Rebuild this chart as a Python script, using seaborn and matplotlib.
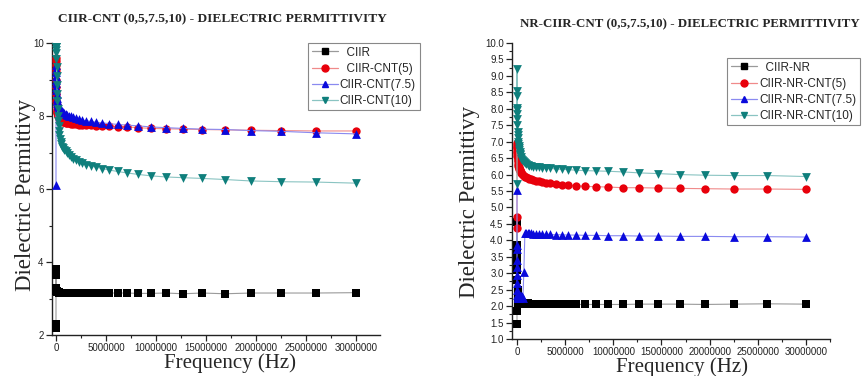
import matplotlib
matplotlib.use("Agg")
import matplotlib.pyplot as plt
import seaborn as sns
import pandas as pd
from matplotlib.lines import Line2D
from matplotlib.ticker import MultipleLocator

# ---------------- data ----------------
freq = [100, 200, 500, 1000, 2000, 5000, 10000, 20000, 40000, 60000, 80000, 100000,
        127000, 146000, 169000, 195000, 225000, 260000, 300000, 346000, 400000, 462000,
        533000, 615000, 710000, 820000, 950000,
        1100000, 1270000, 1460000, 1690000, 1950000, 2250000, 2600000, 3000000, 3460000, 4000000,
        4620000, 5330000, 6150000, 7100000, 8200000, 9500000, 11000000, 12700000, 14600000, 16900000,
        19500000, 22500000, 26000000, 30000000]

# left chart: CIIR-CNT
ciir = [2.2, 2.3, 3.8, 3.65, 3.3, 3.25, 3.22, 3.2, 3.2, 3.2, 3.19, 3.19,
        3.18, 3.18, 3.18, 3.17, 3.17, 3.17, 3.17, 3.16, 3.16, 3.16,
        3.16, 3.16, 3.15, 3.15, 3.15,
        3.15, 3.15, 3.15, 3.14, 3.15, 3.15, 3.14, 3.15, 3.15, 3.15,
        3.15, 3.15, 3.15, 3.15, 3.14, 3.14, 3.15, 3.13, 3.15, 3.13,
        3.15, 3.15, 3.15, 3.16]
ciir_cnt5 = [9.6, 9.5, 9.4, 9.3, 9.2, 9.0, 8.8, 8.6, 8.4, 8.3, 8.2, 8.15,
             8.1, 8.07, 8.04, 8.01, 7.99, 7.97, 7.95, 7.93, 7.91, 7.89,
             7.87, 7.85, 7.84, 7.83, 7.82,
             7.81, 7.8, 7.79, 7.78, 7.77, 7.76, 7.75, 7.74, 7.74, 7.73,
             7.73, 7.72, 7.71, 7.7, 7.68, 7.66, 7.65, 7.64, 7.63, 7.62,
             7.61, 7.6, 7.59, 7.59]
ciir_cnt75 = [6.1, 9.2, 9.4, 9.3, 9.1, 9.0, 8.9, 8.8, 8.7, 8.6, 8.5, 8.45,
              8.4, 8.36, 8.33, 8.3, 8.27, 8.25, 8.23, 8.21, 8.19, 8.17,
              8.15, 8.13, 8.1, 8.08, 8.05,
              8.03, 8.01, 7.99, 7.97, 7.94, 7.91, 7.89, 7.87, 7.85, 7.83,
              7.81, 7.79, 7.77, 7.75, 7.73, 7.7, 7.68, 7.66, 7.64, 7.63,
              7.6, 7.58, 7.54, 7.51]
ciir_cnt10 = [9.95, 9.94, 9.93, 9.92, 9.9, 9.88, 9.82, 9.72, 9.55, 9.35, 9.1, 8.85,
              8.6, 8.4, 8.2, 8.0, 7.85, 7.72, 7.6, 7.48, 7.38, 7.3,
              7.22, 7.16, 7.11, 7.07, 7.03,
              6.98, 6.93, 6.88, 6.83, 6.79, 6.75, 6.71, 6.67, 6.63, 6.6,
              6.56, 6.52, 6.48, 6.44, 6.4, 6.36, 6.33, 6.31, 6.29, 6.26,
              6.22, 6.2, 6.19, 6.16]

# right chart: NR-CIIR-CNT
nr = [1.45, 1.85, 4.55, 3.85, 3.6, 3.45, 3.3, 3.1, 2.8, 2.5, 2.3, 2.15,
      2.1, 2.08, 2.07, 2.07, 2.06, 2.06, 2.06, 2.06, 2.06, 2.06,
      2.06, 2.06, 2.06, 2.07, 2.1,
      2.08, 2.06, 2.05, 2.05, 2.05, 2.05, 2.05, 2.05, 2.05, 2.05,
      2.05, 2.05, 2.05, 2.05, 2.05, 2.05, 2.05, 2.06, 2.06, 2.06,
      2.05, 2.06, 2.07, 2.06]
nr_cnt5 = [4.38, 4.72, 6.95, 6.9, 6.85, 6.8, 6.72, 6.65, 6.57, 6.5, 6.45, 6.4,
           6.32, 6.27, 6.22, 6.19, 6.17, 6.15, 6.13, 6.1, 6.07, 6.04,
           6.01, 5.99, 5.96, 5.94, 5.92,
           5.9, 5.87, 5.85, 5.83, 5.81, 5.79, 5.77, 5.75, 5.73, 5.71,
           5.68, 5.67, 5.66, 5.64, 5.63, 5.62, 5.6, 5.6, 5.59, 5.58,
           5.57, 5.56, 5.56, 5.55]
nr_cnt75 = [5.53, 3.85, 3.75, 3.4, 3.2, 2.95, 2.7, 2.5, 2.35, 2.3, 2.28, 2.27,
            2.26, 2.25, 2.26, 2.27, 2.28, 2.29, 2.3, 2.31, 2.32, 2.32,
            2.3, 2.25, 3.05, 4.22, 4.23,
            4.22, 4.21, 4.21, 4.2, 4.2, 4.19, 4.19, 4.18, 4.18, 4.17,
            4.17, 4.16, 4.16, 4.15, 4.15, 4.14, 4.14, 4.13, 4.13, 4.12,
            4.12, 4.11, 4.11, 4.1]
nr_cnt10 = [5.7, 9.2, 8.55, 8.4, 8.02, 7.95, 7.85, 7.7, 7.5, 7.3, 7.2, 7.1,
            7.0, 6.93, 6.86, 6.8, 6.74, 6.68, 6.63, 6.58, 6.53, 6.48,
            6.44, 6.4, 6.37, 6.34, 6.31,
            6.29, 6.27, 6.26, 6.24, 6.23, 6.22, 6.21, 6.2, 6.19, 6.17,
            6.16, 6.15, 6.13, 6.12, 6.11, 6.1, 6.08, 6.05, 6.03, 6.0,
            5.98, 5.97, 5.97, 5.94]

left_labels = ["  CIIR", "  CIIR-CNT(5)", "CIIR-CNT(7.5)", "CIIR-CNT(10)"]
right_labels = ["  CIIR-NR", "CIIR-NR-CNT(5)", "CIIR-NR-CNT(7.5)", "CIIR-NR-CNT(10)"]
left_title = "CIIR-CNT (0,5,7.5,10) - DIELECTRIC PERMITTIVITY"
right_title = "NR-CIIR-CNT (0,5,7.5,10) - DIELECTRIC PERMITTIVITY"
xlabel = "Frequency (Hz)"
ylabel = "Dielectric Permittivy"

# ---------------- style ----------------
sns.set_theme(style="white")
plt.rcParams["font.family"] = ["Liberation Sans", "DejaVu Sans"]

marker_colors = ["#000000", "#e8000b", "#0a0adc", "#0f7f7c"]
line_colors = ["#9a9a9a", "#f08a8a", "#8a8af0", "#8ac4c2"]
markers = ["s", "o", "^", "v"]
msize = [32, 36, 40, 40]

fig = plt.figure(figsize=(8.64, 3.76), dpi=100)
axL = fig.add_axes([52/864, 1-335/376, 328/864, 292/376])
axR = fig.add_axes([512/864, 1-339/376, 318/864, 296/376])


def draw(ax, series, labels):
    handles = []
    for i, (vals, lab) in enumerate(zip(series, labels)):
        df = pd.DataFrame({"f": freq, "v": vals})
        sns.lineplot(data=df, x="f", y="v", ax=ax, color=line_colors[i], lw=0.8,
                     estimator=None, sort=False, zorder=2 + i)
        sns.scatterplot(data=df, x="f", y="v", ax=ax, color=marker_colors[i],
                        marker=markers[i], s=msize[i], linewidth=0, zorder=3 + i)
        handles.append(Line2D([0], [0], color=line_colors[i], lw=0.9, marker=markers[i],
                              markersize=5, markerfacecolor=marker_colors[i],
                              markeredgecolor=marker_colors[i], label=lab))
    return handles


hL = draw(axL, [ciir, ciir_cnt5, ciir_cnt75, ciir_cnt10], left_labels)
hR = draw(axR, [nr, nr_cnt5, nr_cnt75, nr_cnt10], right_labels)

axL.set_xlim(-400000, 32400000)
axL.set_ylim(2, 10)
axL.yaxis.set_major_locator(MultipleLocator(2))
axL.yaxis.set_minor_locator(MultipleLocator(1))
axR.set_xlim(-520000, 32500000)
axR.set_ylim(1, 10)
axR.yaxis.set_major_locator(MultipleLocator(0.5))
axR.yaxis.set_minor_locator(MultipleLocator(0.25))
axR.yaxis.set_major_formatter(matplotlib.ticker.FormatStrFormatter("%.1f"))

for ax in (axL, axR):
    ax.xaxis.set_major_locator(MultipleLocator(5000000))
    ax.xaxis.set_minor_locator(MultipleLocator(2500000))
    ax.xaxis.set_major_formatter(matplotlib.ticker.FormatStrFormatter("%d"))
    for s in ("top", "right"):
        ax.spines[s].set_visible(False)
    for s in ("left", "bottom"):
        ax.spines[s].set_color("#222222")
        ax.spines[s].set_linewidth(1.0)
    ax.tick_params(which="major", direction="out", length=4, width=0.9,
                   labelsize=7, colors="#222222", pad=2, bottom=True, left=True)
    ax.tick_params(which="minor", direction="out", length=2.5, width=0.8,
                   colors="#222222", bottom=True, left=True)
    ax.set_xlabel("")
    ax.set_ylabel("")
    ax.grid(False)

# titles and axis labels
serif = ["Liberation Serif", "DejaVu Serif"]
fig.text(222/864, 1-19/376, left_title, ha="center", va="center",
         fontsize=9.6, fontweight="bold", family=serif)
fig.text(690/864, 1-24/376, right_title, ha="center", va="center",
         fontsize=9.3, fontweight="bold", family=serif)
fig.text(26/864, 1-195/376, ylabel, rotation=90, ha="center", va="center",
         fontsize=16.5, family=serif)
fig.text(469/864, 1-202/376, ylabel, rotation=90, ha="center", va="center",
         fontsize=16.5, family=serif)
fig.text(230/864, 1-363/376, xlabel, ha="center", va="center",
         fontsize=15, family=serif)
fig.text(682/864, 1-367/376, xlabel, ha="center", va="center",
         fontsize=15, family=serif)

legkw = dict(loc="upper left", fontsize=8.5, frameon=True, fancybox=False,
             edgecolor="#888888", framealpha=1, borderpad=0.3, labelspacing=0.35,
             handlelength=2.2, handletextpad=0.2, borderaxespad=0)
legL = fig.legend(handles=hL, bbox_to_anchor=(308/864, 1-43/376), **legkw)
legR = fig.legend(handles=hR, bbox_to_anchor=(727/864, 1-58/376), **legkw)
for lg in (legL, legR):
    lg.get_frame().set_linewidth(0.8)

fig.savefig("out.png", dpi=100)
